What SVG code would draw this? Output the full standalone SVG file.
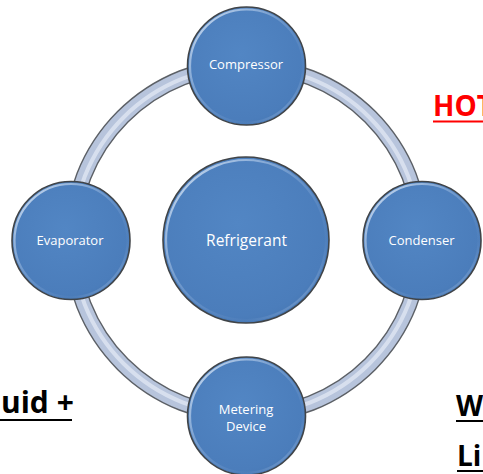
<svg xmlns="http://www.w3.org/2000/svg" width="483" height="474" viewBox="0 0 483 474">
<style>
.node{fill:url(#nf);stroke:#404448;stroke-width:1.6}
.bev{fill:none;stroke:url(#bv);stroke-width:2.2}
.lbl{font-family:"Open Sans","Liberation Sans",sans-serif;fill:#ffffff;text-anchor:middle}
.sm{font-size:13px}
.big{font-size:15.5px}
.side{font-family:"Open Sans","Liberation Sans",sans-serif;font-weight:bold;font-size:28px}
</style>
<defs>
<radialGradient id="nf" cx="0.45" cy="0.4" r="0.65">
<stop offset="0" stop-color="#5286c4"/>
<stop offset="0.85" stop-color="#4b7dbb"/>
<stop offset="1" stop-color="#4677b3"/>
</radialGradient>
<linearGradient id="bv" x1="0" y1="0" x2="1" y2="1">
<stop offset="0" stop-color="#e6f0fb" stop-opacity="0.95"/>
<stop offset="0.45" stop-color="#a8c3e6" stop-opacity="0.35"/>
<stop offset="0.75" stop-color="#6f97cc" stop-opacity="0.1"/>
<stop offset="1" stop-color="#c7d8ef" stop-opacity="0.8"/>
</linearGradient>
</defs>
<rect width="483" height="474" fill="#ffffff"/>
<g id="connectors">
<circle cx="246.5" cy="240.5" r="175" fill="none" stroke="#5c6066" stroke-width="16"/>
<circle cx="246.5" cy="240.5" r="175" fill="none" stroke="#b7c4dc" stroke-width="13.2"/>
<circle cx="246.5" cy="240.5" r="174" fill="none" stroke="#dde4f1" stroke-width="4" stroke-opacity="0.85"/>
</g>
<g id="refrigerant">
<circle class="node" cx="246" cy="240" r="83"/>
<circle class="bev" cx="246" cy="240" r="80"/>
<text class="lbl big" x="246.5" y="245.5">Refrigerant</text>
</g>
<g id="compressor">
<circle class="node" cx="246.5" cy="66" r="59"/>
<circle class="bev" cx="246.5" cy="66" r="56.5"/>
<text class="lbl sm" x="246" y="68.5">Compressor</text>
</g>
<g id="condenser">
<circle class="node" cx="422" cy="240.5" r="59"/>
<circle class="bev" cx="422" cy="240.5" r="56.5"/>
<text class="lbl sm" x="421.5" y="245">Condenser</text>
</g>
<g id="metering">
<circle class="node" cx="246.5" cy="416" r="59"/>
<circle class="bev" cx="246.5" cy="416" r="56.5"/>
<text class="lbl sm" x="246" y="413.5">Metering</text>
<text class="lbl sm" x="246" y="430.5">Device</text>
</g>
<g id="evaporator">
<circle class="node" cx="71" cy="240.5" r="59"/>
<circle class="bev" cx="71" cy="240.5" r="56.5"/>
<text class="lbl sm" x="70" y="245">Evaporator</text>
</g>
<g id="side-labels">
<text class="side" x="433" y="116" fill="#ff0000">HOT</text>
<line x1="433" y1="121.5" x2="483" y2="121.5" stroke="#ff0000" stroke-width="2"/>
<text class="side" x="1" y="413" style="font-size:30px">uid +</text>
<line x1="0" y1="420" x2="72" y2="420" stroke="#000000" stroke-width="2"/>
<text class="side" x="456" y="416">W</text>
<line x1="456" y1="421" x2="483" y2="421" stroke="#000000" stroke-width="2"/>
<text class="side" x="457" y="466">Li</text>
<line x1="457" y1="471" x2="483" y2="471" stroke="#000000" stroke-width="2"/>
</g>
</svg>
